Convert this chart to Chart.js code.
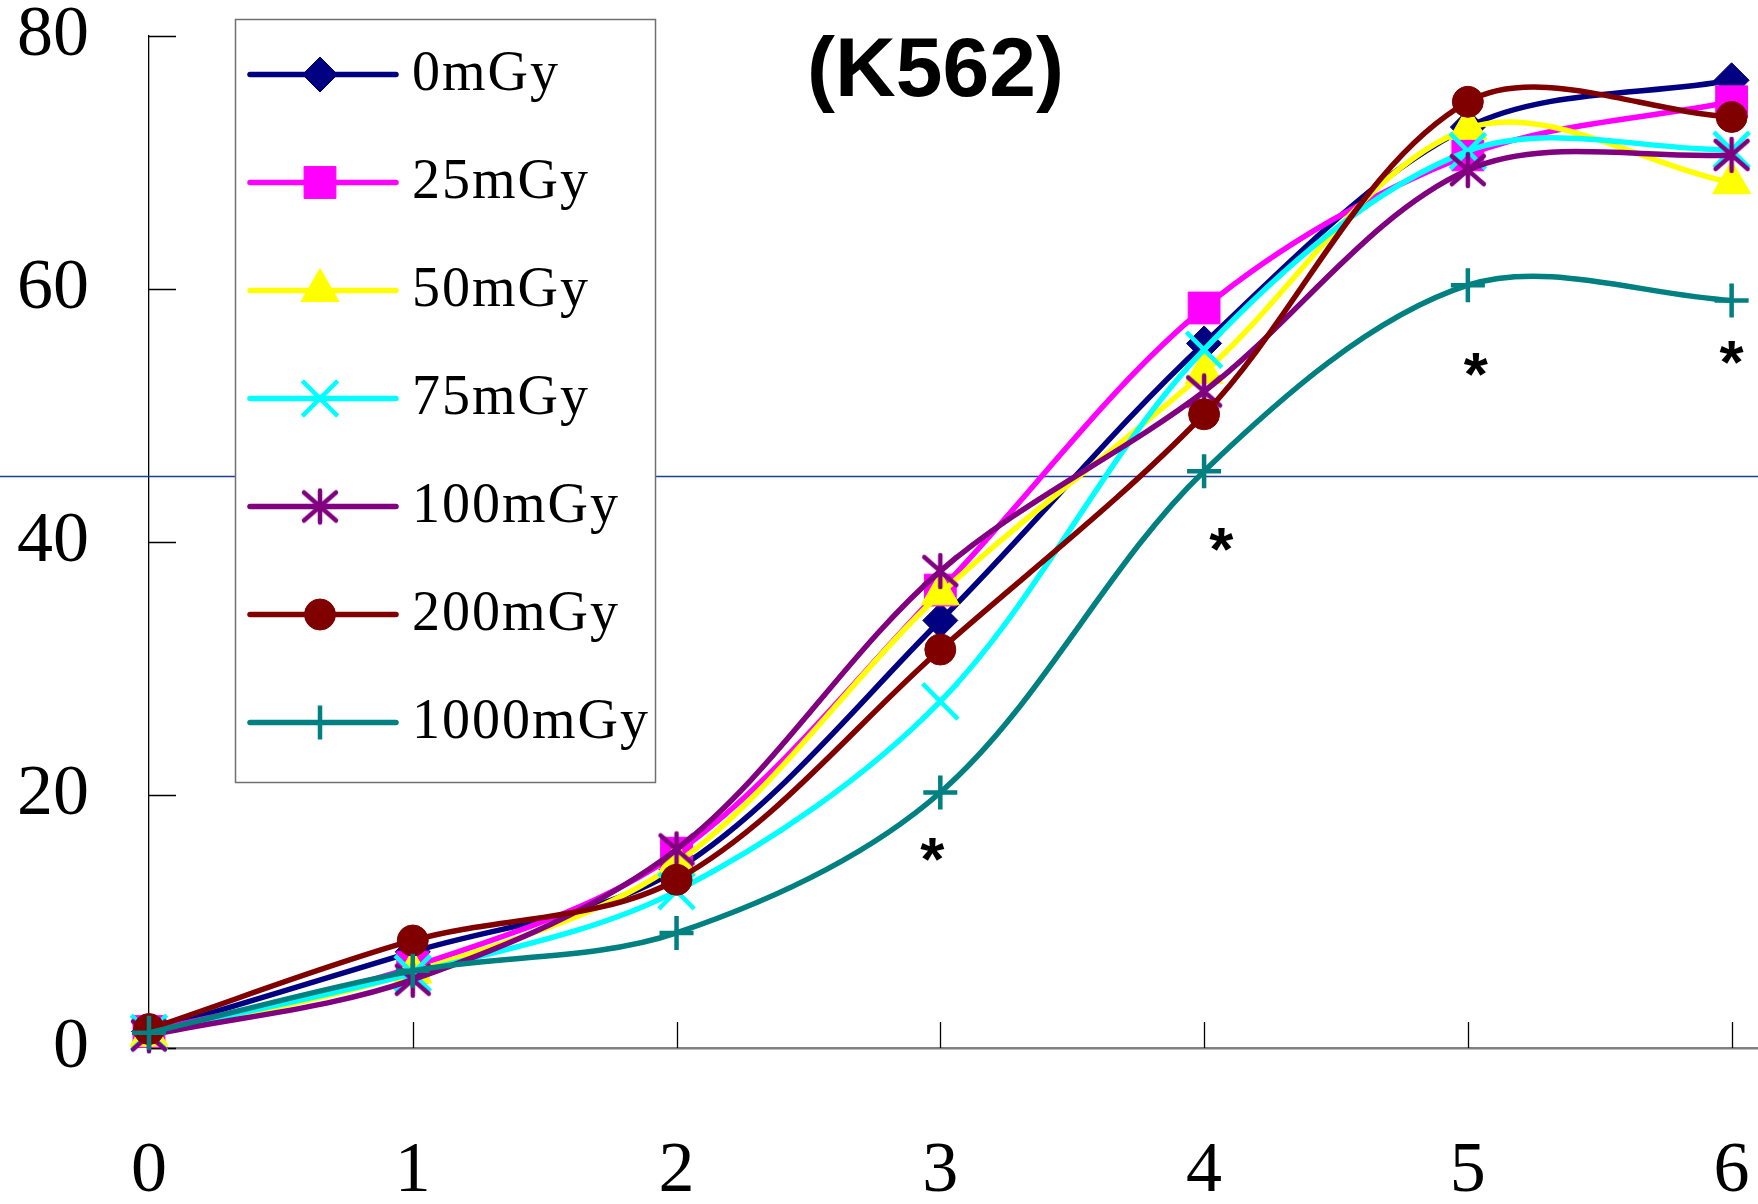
<!DOCTYPE html>
<html><head><meta charset="utf-8">
<script src="https://cdn.jsdelivr.net/npm/chart.js@4/dist/chart.umd.min.js"></script>
<style>html,body{margin:0;padding:0;background:#fff;} canvas{display:block;}</style>
</head><body>
<canvas id="c" width="1758" height="1204"></canvas>
<script>
// ---- data ----
const days = [0, 1, 2, 3, 4, 5, 6];
const xTickLabels = ['0', '1', '2', '3', '4', '5', '6'];
const yTickLabels = ['0', '20', '40', '60', '80'];
const seriesNames = ['0mGy', '25mGy', '50mGy', '75mGy', '100mGy', '200mGy', '1000mGy'];
const s0mGy    = [1.3, 7.6, 14.1, 33.8, 55.7, 72.8, 76.5];
const s25mGy   = [1.3, 6.4, 15.4, 36.2, 58.5, 70.6, 74.8];
const s50mGy   = [1.0, 6.0, 14.6, 35.9, 53.4, 72.7, 68.4];
const s75mGy   = [1.2, 5.9, 12.4, 27.4, 55.2, 70.9, 71.0];
const s100mGy  = [1.0, 5.4, 15.7, 37.7, 51.9, 69.4, 70.6];
const s200mGy  = [1.5, 8.5, 13.3, 31.5, 50.1, 74.8, 73.6];
const s1000mGy = [1.2, 6.1, 9.1, 20.2, 45.6, 60.3, 59.1];
const sigX = [2.97, 4.065, 5.03, 6.0];   // significance marks "*"
const sigY = [15.7, 40.2, 54.0, 55.0];
const refLineValue = 45.2;
const titleText = '(K562)';

const seriesValues = [s0mGy, s25mGy, s50mGy, s75mGy, s100mGy, s200mGy, s1000mGy];

// ---- styles ----
const colors = ['#000080', '#FF00FF', '#FFFF00', '#00FFFF', '#800080', '#800000', '#008080'];

function makeStar(color) {
  const c = document.createElement('canvas');
  c.width = 40; c.height = 38;
  const g = c.getContext('2d');
  g.strokeStyle = color; g.lineWidth = 4.5; g.lineCap = 'round';
  g.beginPath();
  g.moveTo(20, 3); g.lineTo(20, 35);
  g.moveTo(4, 5); g.lineTo(36, 33);
  g.moveTo(36, 5); g.lineTo(4, 33);
  g.stroke();
  return c;
}
const starImg = makeStar('#800080');
const pointStyles = ['rectRot', 'rect', 'triangle', 'crossRot', starImg, 'circle', 'cross'];
const pointRadii = [17.5, 22.5, 22, 25, 18, 15.5, 17];
const pointBorders = [1, 1, 1, 4.5, 1, 1, 4.5];

const serif = '"Liberation Serif", "Times New Roman", serif';
const sans = '"Liberation Sans", Arial, sans-serif';

const datasets = seriesNames.map((name, i) => ({
  label: name,
  data: days.map((d, j) => ({ x: d, y: seriesValues[i][j] })),
  borderColor: colors[i],
  backgroundColor: colors[i],
  borderWidth: 5.5,
  tension: 0.33,
  pointStyle: pointStyles[i],
  pointRadius: pointRadii[i],
  pointHoverRadius: pointRadii[i],
  pointBackgroundColor: colors[i],
  pointBorderColor: colors[i],
  pointBorderWidth: pointBorders[i],
  clip: false,
  order: seriesNames.length - i
}));

function drawMarker(ctx, i, x, y) {
  ctx.save();
  ctx.fillStyle = colors[i];
  ctx.strokeStyle = colors[i];
  ctx.lineWidth = pointBorders[i];
  ctx.lineCap = 'butt';
  if (Chart.helpers && Chart.helpers.drawPoint) {
    Chart.helpers.drawPoint(ctx, { pointStyle: pointStyles[i], radius: pointRadii[i], rotation: 0, borderWidth: pointBorders[i] }, x, y);
  }
  ctx.restore();
}

const decor = {
  id: 'decor',
  beforeDatasetsDraw(chart) {
    const ctx = chart.ctx, xs = chart.scales.x, ys = chart.scales.y, a = chart.chartArea;
    ctx.save();
    // reference horizontal line across the whole figure
    const yr = Math.round(ys.getPixelForValue(refLineValue)) + 0.5;
    ctx.strokeStyle = '#1F3C96'; ctx.lineWidth = 1.3;
    ctx.beginPath(); ctx.moveTo(0, yr); ctx.lineTo(chart.width, yr); ctx.stroke();
    // inward tick marks
    ctx.strokeStyle = '#000'; ctx.lineWidth = 1.3;
    ctx.beginPath();
    ys.ticks.forEach(t => {
      const py = Math.round(ys.getPixelForValue(t.value)) + 0.5;
      ctx.moveTo(a.left, py); ctx.lineTo(a.left + 27, py);
    });
    xs.ticks.forEach(t => {
      const px = Math.round(xs.getPixelForValue(t.value)) + 0.5;
      ctx.moveTo(px, a.bottom); ctx.lineTo(px, a.bottom - 26);
    });
    ctx.stroke();
    ctx.restore();
  },
  afterDraw(chart) {
    const ctx = chart.ctx, xs = chart.scales.x, ys = chart.scales.y;
    ctx.save();
    // title
    ctx.fillStyle = '#000';
    ctx.font = 'bold 84px ' + sans;
    ctx.textAlign = 'center'; ctx.textBaseline = 'alphabetic';
    ctx.fillText(titleText, 935.5, 96);
    // significance asterisks
    ctx.font = 'bold 62px ' + sans;
    const m = ctx.measureText('*');
    const asc = m.actualBoundingBoxAscent, desc = m.actualBoundingBoxDescent;
    sigX.forEach((sx, k) => {
      const px = xs.getPixelForValue(sx), py = ys.getPixelForValue(sigY[k]);
      ctx.fillText('*', px, py + (asc - desc) / 2);
    });
    // legend
    const L = 235.5, T = 19.5, W = 420, H = 763;
    ctx.fillStyle = '#fff';
    ctx.fillRect(L, T, W, H);
    ctx.strokeStyle = '#707070'; ctx.lineWidth = 1.5;
    ctx.strokeRect(L, T, W, H);
    ctx.font = '56px ' + serif;
    ctx.textAlign = 'left';
    try { ctx.letterSpacing = '2px'; } catch (e) {}
    seriesNames.forEach((name, i) => {
      const ry = 74.5 + 108 * i;
      ctx.strokeStyle = colors[i]; ctx.lineWidth = 5.5; ctx.lineCap = 'round';
      ctx.beginPath(); ctx.moveTo(250, ry); ctx.lineTo(396, ry); ctx.stroke();
      drawMarker(ctx, i, 320, ry);
      ctx.fillStyle = '#000';
      ctx.fillText(name, 412, ry + 15);
    });
    ctx.restore();
  }
};

new Chart(document.getElementById('c'), {
  type: 'line',
  data: { datasets },
  options: {
    responsive: false,
    animation: false,
    events: [],
    layout: { autoPadding: false, padding: { top: 36, left: 0, right: 0, bottom: 0 } },
    plugins: { legend: { display: false }, title: { display: false }, tooltip: { enabled: false } },
    scales: {
      x: {
        type: 'linear', min: 0, max: 6.1,
        grid: { drawOnChartArea: false, drawTicks: false },
        border: { display: true, color: '#808080', width: 2.5 },
        ticks: {
          stepSize: 1, includeBounds: false, padding: 81,
          color: '#000', font: { family: serif, size: 72 },
          callback: (v) => xTickLabels[days.indexOf(v)] ?? ''
        },
        afterFit(s) { s.height = 156; s.paddingLeft = 0; s.paddingRight = 0; }
      },
      y: {
        min: 0, max: 80,
        grid: { drawOnChartArea: false, drawTicks: false },
        border: { display: true, color: '#000', width: 1.3 },
        ticks: {
          stepSize: 20, padding: 60,
          color: '#000', font: { family: serif, size: 72 },
          callback: (v) => yTickLabels[v / 20] ?? ''
        },
        afterFit(s) { s.width = 149; s.paddingTop = 0; s.paddingBottom = 0; }
      }
    }
  },
  plugins: [decor]
});
</script>
</body></html>
